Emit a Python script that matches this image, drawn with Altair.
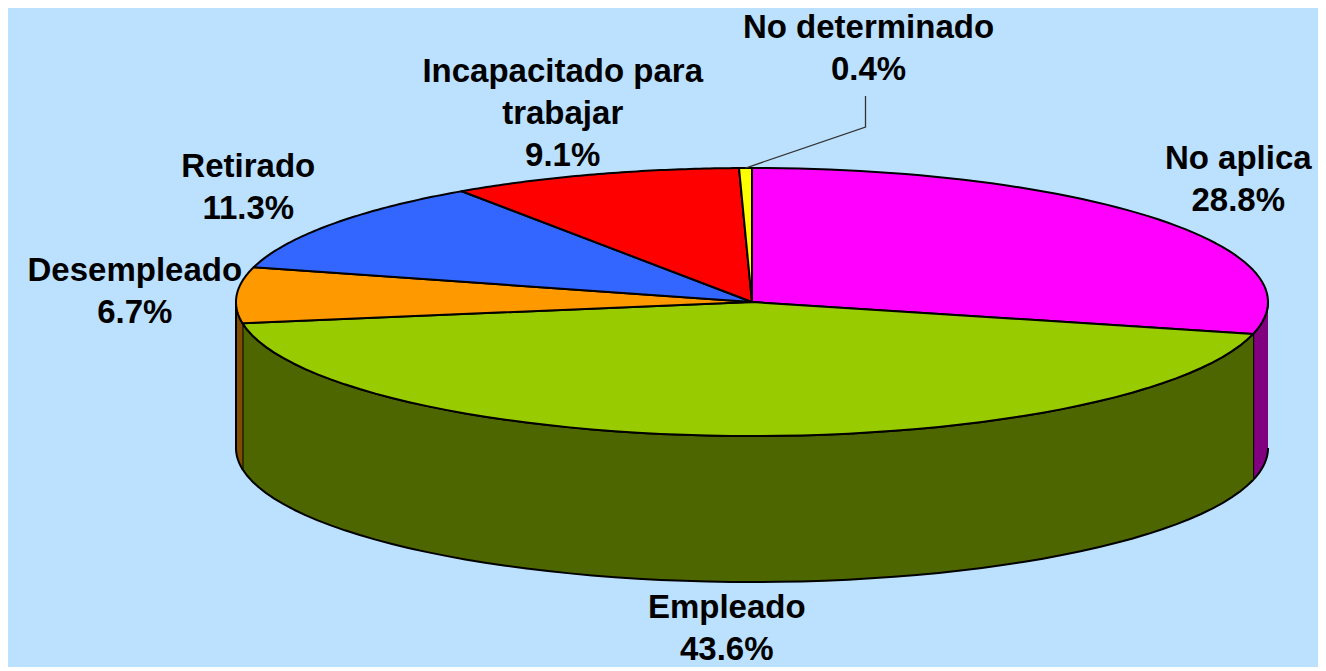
import altair as alt
import pandas as pd

# ---- data ----
categories = ["No aplica", "Empleado", "Desempleado", "Retirado",
              "Incapacitado para trabajar", "No determinado"]
label_names = ["No aplica", "Empleado", "Desempleado", "Retirado",
               "Incapacitado para\ntrabajar", "No determinado"]
values = [28.8, 43.6, 6.7, 11.3, 9.1, 0.4]
pct_labels = ["28.8%", "43.6%", "6.7%", "11.3%", "9.1%", "0.4%"]
top_colors = ["#FF00FF", "#99CC00", "#FF9900", "#3366FF", "#FF0000", "#FFFF00"]
side_colors = ["#800080", "#4D6600", "#804C00", "#1A3380", "#800000", "#808000"]

df = pd.DataFrame({
    "idx": list(range(len(categories))),
    "cat": categories,
    "value": values,
    "txt": [n + "\n" + p for n, p in zip(label_names, pct_labels)],
    "top": top_colors,
    "side": side_colors,
})

# ---- geometry of the tilted pie (screen pixels) ----
CX, CY = 752, 302      # centre of the top face
RX, RY = 516, 134      # radii of the top ellipse
DEPTH = 146            # thickness of the pie
LRX, LRY = 618, 197    # label ellipse
LDEPTH = 130           # label drop for labels below the pie
LH = 42                # label line height
N = 60                 # points per arc

W, H = 1310, 655
xs = alt.Scale(domain=[8, 8 + W], nice=False, zero=False)
ys = alt.Scale(domain=[8, 8 + H], nice=False, zero=False, reverse=True)

base = (
    alt.Chart(df)
    .transform_window(cum="sum(value)", sort=[alt.SortField("idx")], frame=[None, 0])
    .transform_joinaggregate(total="sum(value)")
    .transform_calculate(
        a0="2*PI*(datum.cum-datum.value)/datum.total",
        a1="2*PI*datum.cum/datum.total",
    )
)

# side walls (front half only)
side = (
    base.transform_calculate(
        lo="max(datum.a0, PI/2)",
        hi="min(datum.a1, 3*PI/2)",
    )
    .transform_filter("datum.lo < datum.hi")
    .transform_calculate(k=f"sequence(0, {2 * N + 2})")
    .transform_flatten(["k"])
    .transform_calculate(
        ang=f"datum.k <= {N} ? datum.lo + (datum.hi-datum.lo)*datum.k/{N} : "
            f"datum.hi - (datum.hi-datum.lo)*(datum.k-{N + 1})/{N}",
    )
    .transform_calculate(
        px=f"{CX} + {RX}*sin(datum.ang)",
        py=f"{CY} - {RY}*cos(datum.ang) + (datum.k > {N} ? {DEPTH} : 0)",
    )
    .mark_line(strokeWidth=2, strokeJoin="round")
    .encode(
        x=alt.X("px:Q", scale=xs, axis=None),
        y=alt.Y("py:Q", scale=ys, axis=None),
        detail="cat:N",
        order="k:Q",
        fill=alt.Fill("side:N", scale=None),
        stroke=alt.value("black"),
    )
)

# top faces
top = (
    base.transform_calculate(k=f"sequence(0, {N + 3})")
    .transform_flatten(["k"])
    .transform_calculate(ang=f"datum.a0 + (datum.a1-datum.a0)*(datum.k-1)/{N}")
    .transform_calculate(
        px=f"(datum.k == 0 || datum.k == {N + 2}) ? {CX} : {CX} + {RX}*sin(datum.ang)",
        py=f"(datum.k == 0 || datum.k == {N + 2}) ? {CY} : {CY} - {RY}*cos(datum.ang)",
    )
    .mark_line(strokeWidth=2, strokeJoin="round")
    .encode(
        x=alt.X("px:Q", scale=xs, axis=None),
        y=alt.Y("py:Q", scale=ys, axis=None),
        detail="cat:N",
        order="k:Q",
        fill=alt.Fill("top:N", scale=None),
        stroke=alt.value("black"),
    )
)

mid = base.transform_calculate(m="(datum.a0+datum.a1)/2").transform_calculate(
    ex=f"{CX} + {RX}*sin(datum.m)",
    ey=f"{CY} - {RY}*cos(datum.m)",
)

# leader line for tiny slices
leader = (
    mid.transform_filter("datum.value < 1")
    .transform_calculate(k="sequence(0, 3)")
    .transform_flatten(["k"])
    .transform_calculate(
        px="datum.ex + (datum.k == 0 ? 0 : 120)",
        py="datum.ey - (datum.k == 0 ? 0 : (datum.k == 1 ? 41 : 72))",
    )
    .mark_line(strokeWidth=1.3, color="#333333")
    .encode(
        x=alt.X("px:Q", scale=xs, axis=None),
        y=alt.Y("py:Q", scale=ys, axis=None),
        detail="cat:N",
        order="k:Q",
    )
)

labels = (
    mid.transform_calculate(
        nl="length(split(datum.txt, '\\n'))",
        lx=f"datum.value < 1 ? datum.ex + 123 : {CX} + {LRX}*sin(datum.m)",
        lyc=f"datum.value < 1 ? datum.ey - 119 : "
            f"{CY} - {LRY}*cos(datum.m) + (cos(datum.m) < 0 ? {LDEPTH} : 0)",
    )
    .transform_calculate(ly=f"datum.lyc - (datum.nl - 1)*{LH}/2")
    .mark_text(
        font="Liberation Sans", fontWeight="bold", fontSize=33,
        lineBreak="\n", lineHeight=LH, align="center", baseline="middle",
        color="black",
    )
    .encode(
        x=alt.X("lx:Q", scale=xs, axis=None),
        y=alt.Y("ly:Q", scale=ys, axis=None),
        text="txt:N",
    )
)

chart = (
    alt.layer(side, top, leader, labels)
    .properties(width=W, height=H, padding=0, background="#BBE1FF")
    .configure_view(stroke=None)
)

chart.save("out.html", embed_options={"renderer": "svg", "actions": False})
